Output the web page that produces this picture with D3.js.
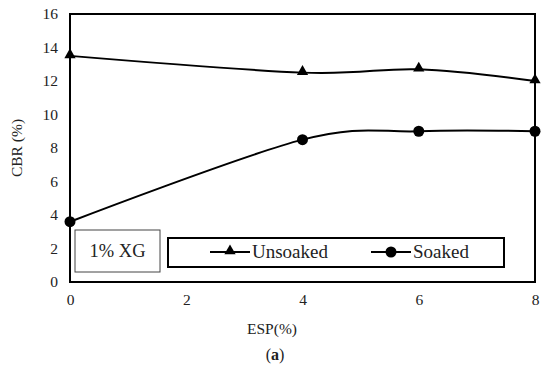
<!DOCTYPE html>
<html><head><meta charset="utf-8">
<script src="https://cdn.jsdelivr.net/npm/d3@7"></script>
<style>body{margin:0;background:#fff}svg{display:block}</style>
</head><body>
<script>
const esp = [0, 4, 6, 8];
const unsoaked = [13.5, 12.5, 12.7, 12.0];
const soaked = [3.6, 8.5, 9.0, 9.0];
const xTicks = [0, 2, 4, 6, 8];
const yTicks = [0, 2, 4, 6, 8, 10, 12, 14, 16];
const seriesNames = ["Unsoaked", "Soaked"];

const W = 550, H = 370;
const m = {left: 70, right: 15, top: 14, bottom: 88};
const font = "'Liberation Serif', 'DejaVu Serif', serif";
const svg = d3.select("body").append("svg").attr("width", W).attr("height", H);

const x = d3.scaleLinear().domain([0, 8]).range([m.left, W - m.right]);
const y = d3.scaleLinear().domain([0, 16]).range([H - m.bottom, m.top]);

// frame
svg.append("rect").attr("x", x(0)).attr("y", y(16)).attr("width", x(8) - x(0)).attr("height", y(0) - y(16))
  .attr("fill", "none").attr("stroke", "#000").attr("stroke-width", 2);

const xAxis = svg.append("g").attr("transform", `translate(0,${y(0)})`)
  .call(d3.axisBottom(x).tickValues(xTicks).tickSize(0).tickPadding(12));
const yAxis = svg.append("g").attr("transform", `translate(${x(0)},0)`)
  .call(d3.axisLeft(y).tickValues(yTicks).tickSize(0).tickPadding(12));
[xAxis, yAxis].forEach(g => {
  g.select(".domain").remove();
  g.selectAll("text").attr("font-family", font).attr("font-size", 15.5).attr("fill", "#222");
});

svg.append("text").attr("x", 272).attr("y", 334).attr("text-anchor", "middle")
  .attr("font-family", font).attr("font-size", 15.5).attr("fill", "#222").text("ESP(%)");
svg.append("text").attr("x", 275).attr("y", 360).attr("text-anchor", "middle")
  .attr("font-family", font).attr("font-size", 16).attr("fill", "#222")
  .html('(<tspan font-weight="bold">a</tspan>)');
svg.append("text").attr("transform", "translate(22,148) rotate(-90)").attr("text-anchor", "middle")
  .attr("font-family", font).attr("font-size", 15.5).attr("fill", "#222").text("CBR (%)");

const line = d3.line().curve(d3.curveCatmullRom.alpha(0)).x(d => x(d[0])).y(d => y(d[1]));
const data = [unsoaked, soaked].map(vals => esp.map((e, i) => [e, vals[i]]));
const tri = d3.symbol().type(d3.symbolTriangle).size(55);

data.forEach((pts, k) => {
  svg.append("path").attr("d", line(pts)).attr("fill", "none").attr("stroke", "#000").attr("stroke-width", 2);
  pts.forEach(p => {
    if (k === 0) svg.append("path").attr("d", tri()).attr("transform", `translate(${x(p[0])},${y(p[1]) - 1})`).attr("fill", "#000");
    else svg.append("circle").attr("cx", x(p[0])).attr("cy", y(p[1])).attr("r", 5.5).attr("fill", "#000");
  });
});

// 1% XG box
svg.append("rect").attr("x", 75).attr("y", 230).attr("width", 85).attr("height", 42)
  .attr("fill", "#fff").attr("stroke", "#444").attr("stroke-width", 1);
svg.append("text").attr("x", 117.5).attr("y", 257).attr("text-anchor", "middle")
  .attr("font-family", font).attr("font-size", 18.5).attr("fill", "#222").text("1% XG");

// series legend
svg.append("rect").attr("x", 168).attr("y", 238).attr("width", 336).attr("height", 29)
  .attr("fill", "#fff").attr("stroke", "#000").attr("stroke-width", 2);
const leg = [{x0: 210, name: seriesNames[0]}, {x0: 371, name: seriesNames[1]}];
leg.forEach((l, k) => {
  const cy = 252;
  svg.append("line").attr("x1", l.x0).attr("x2", l.x0 + 40).attr("y1", cy).attr("y2", cy)
    .attr("stroke", "#000").attr("stroke-width", 2);
  if (k === 0) svg.append("path").attr("d", tri()).attr("transform", `translate(${l.x0 + 20},${cy - 1})`).attr("fill", "#000");
  else svg.append("circle").attr("cx", l.x0 + 20).attr("cy", cy).attr("r", 5.5).attr("fill", "#000");
  svg.append("text").attr("x", l.x0 + 42).attr("y", cy + 6).attr("font-family", font).attr("font-size", 19)
    .attr("fill", "#222").text(l.name);
});
</script>
</body></html>
